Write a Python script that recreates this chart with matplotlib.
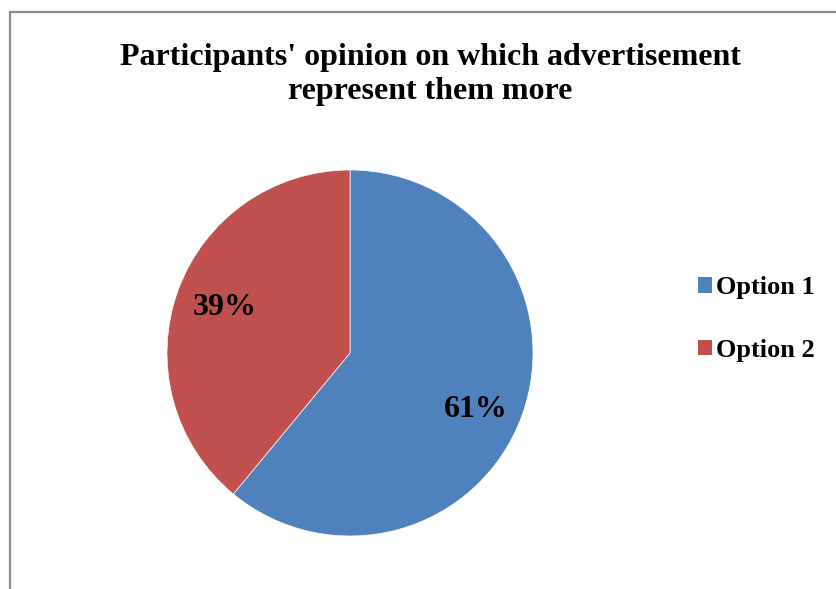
import matplotlib.pyplot as plt
from matplotlib.patches import Rectangle, Patch

# data
options = ['Option 1', 'Option 2']
shares = [61, 39]
colors = ['#4F81BD', '#C0504D']

W, H = 836, 589
fig = plt.figure(figsize=(W / 100, H / 100), dpi=100)
plt.rcParams['font.family'] = ['Liberation Serif', 'DejaVu Serif']

# chart area border (runs off the right and bottom edges)
fig.patches.append(Rectangle((10 / W, -0.1), 1.0, (H - 12) / H + 0.1,
                             transform=fig.transFigure, fill=False,
                             edgecolor='#8C8C8C', linewidth=1.6))

fig.text(430 / W, 1 - 43 / H,
         "Participants' opinion on which advertisement\nrepresent them more",
         ha='center', va='top', fontsize=23, fontweight='bold',
         linespacing=1.25)

# pie axes centred at (350, 353) px, radius 183 px
cx, cy, r = 350, 353, 183
ax = fig.add_axes([(cx - r) / W, (H - cy - r) / H, 2 * r / W, 2 * r / H])
wedges, texts, autotexts = ax.pie(shares, colors=colors, startangle=90,
                                  counterclock=False, autopct='%d%%',
                                  pctdistance=0.73,
                                  wedgeprops=dict(linewidth=0.5, edgecolor='white'),
                                  textprops=dict(fontsize=23, fontweight='bold'))
# nudge the larger slice's label a little lower
x0, y0 = autotexts[0].get_position()
autotexts[0].set_position((x0, y0 - 0.06))
ax.set_xlim(-1, 1)
ax.set_ylim(-1, 1)
ax.set_aspect('equal')

handles = [Patch(facecolor=c, edgecolor='none') for c in colors]
fig.legend(handles, options, loc='center left',
           bbox_to_anchor=(674 / W, 1 - 319 / H), frameon=False,
           prop=dict(size=19, weight='bold'), handlelength=0.55,
           handleheight=0.55, handletextpad=0.15, labelspacing=1.5)

fig.savefig('out.png', dpi=100)
